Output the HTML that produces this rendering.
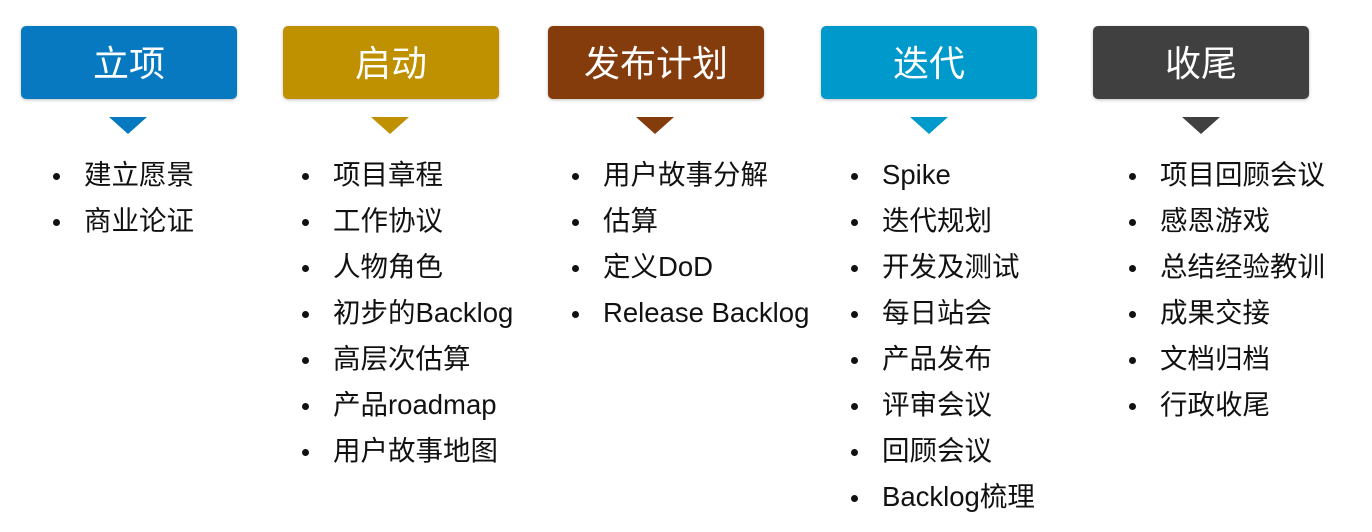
<!DOCTYPE html>
<html><head><meta charset="utf-8"><style>
body{margin:0;width:1372px;height:532px;background:#fff;position:relative;overflow:hidden;font-family:"Liberation Sans","Noto Sans CJK SC",sans-serif}
.b{position:absolute;top:26px;width:216px;height:73px;border-radius:5px;color:#fff;font-size:36px;display:flex;align-items:center;justify-content:center;box-shadow:0 1px 3px rgba(0,0,0,.25);padding-bottom:3px;box-sizing:border-box}
.t{position:absolute;top:117px;width:0;height:0;border-left:19px solid transparent;border-right:19px solid transparent;border-top:17px solid}
ul{position:absolute;top:153px;margin:0;padding:0;list-style:none;font-size:27.5px;color:#111}
li{height:46px;line-height:44px;position:relative;white-space:nowrap}
li:before{content:"";position:absolute;left:-31px;top:20px;width:7px;height:7px;border-radius:50%;background:#111}
</style></head><body>
<div class="b" style="left:21px;background:#0779c1">立项</div>
<div class="b" style="left:283px;background:#bf9000">启动</div>
<div class="b" style="left:548px;background:#843c0c">发布计划</div>
<div class="b" style="left:821px;background:#0099cc">迭代</div>
<div class="b" style="left:1093px;background:#404040">收尾</div>
<div class="t" style="left:109px;border-top-color:#0779c1"></div>
<div class="t" style="left:371px;border-top-color:#bf9000"></div>
<div class="t" style="left:636px;border-top-color:#843c0c"></div>
<div class="t" style="left:910px;border-top-color:#0099cc"></div>
<div class="t" style="left:1182px;border-top-color:#404040"></div>
<ul style="left:84px"><li>建立愿景</li><li>商业论证</li></ul>
<ul style="left:333px"><li>项目章程</li><li>工作协议</li><li>人物角色</li><li>初步的Backlog</li><li>高层次估算</li><li>产品roadmap</li><li>用户故事地图</li></ul>
<ul style="left:603px"><li>用户故事分解</li><li>估算</li><li>定义DoD</li><li>Release Backlog</li></ul>
<ul style="left:882px"><li>Spike</li><li>迭代规划</li><li>开发及测试</li><li>每日站会</li><li>产品发布</li><li>评审会议</li><li>回顾会议</li><li>Backlog梳理</li></ul>
<ul style="left:1160px"><li>项目回顾会议</li><li>感恩游戏</li><li>总结经验教训</li><li>成果交接</li><li>文档归档</li><li>行政收尾</li></ul>
</body></html>
